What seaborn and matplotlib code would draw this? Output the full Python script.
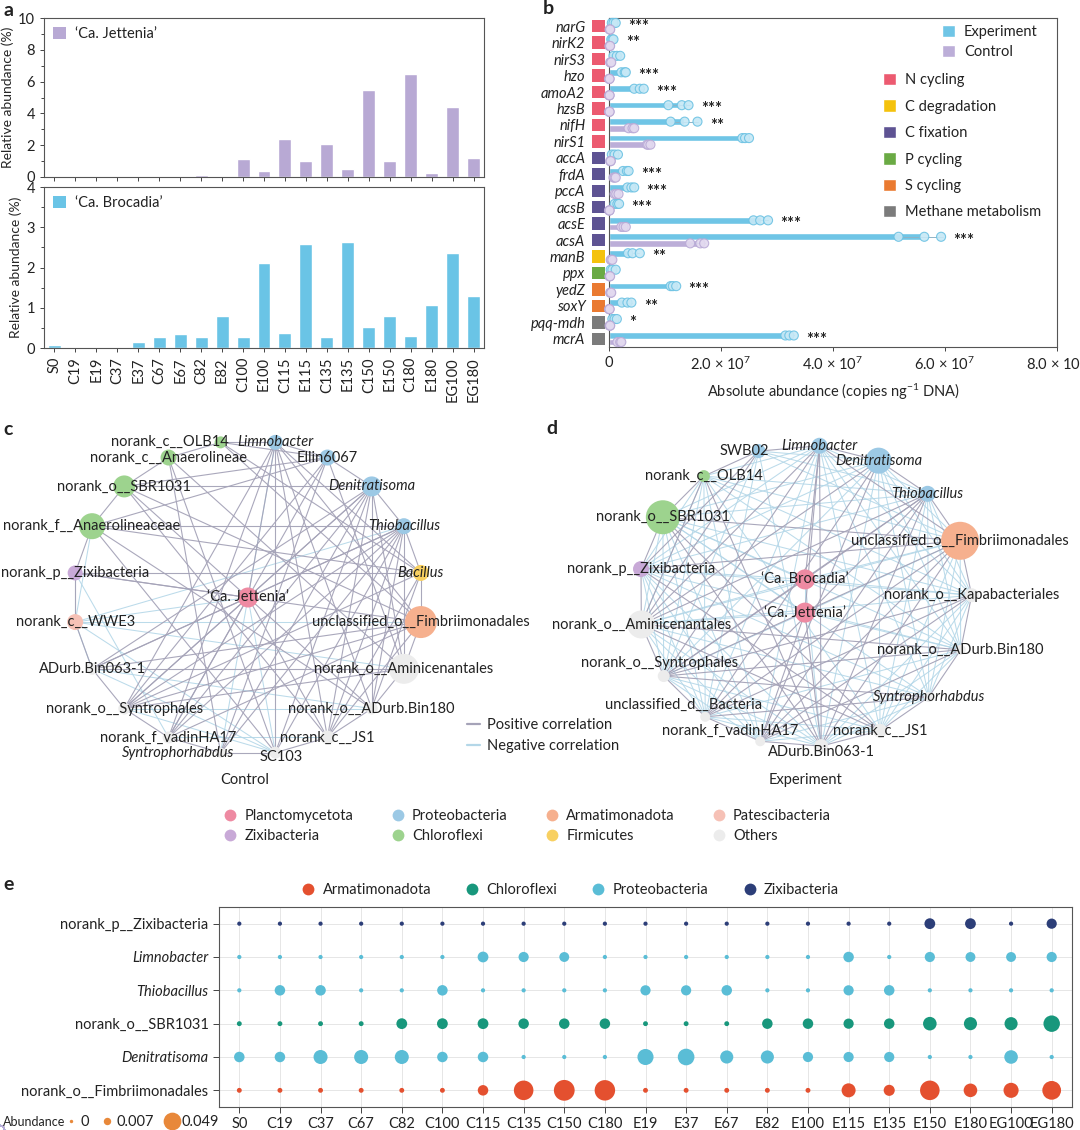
import numpy as np
import pandas as pd
import matplotlib
matplotlib.use("Agg")
import matplotlib.pyplot as plt
import matplotlib.transforms as mtransforms
from matplotlib.lines import Line2D
from matplotlib.patches import Patch
from matplotlib.ticker import MultipleLocator
import seaborn as sns

# ---------------- panel a: relative abundance of anammox genera ----------------
samples_a = ["S0", "C19", "E19", "C37", "E37", "C67", "E67", "C82", "E82", "C100", "E100",
             "C115", "E115", "C135", "E135", "C150", "E150", "C180", "E180", "EG100", "EG180"]
jettenia_pct = [0, 0, 0, 0, 0, 0, 0, 0.15, 0, 1.15, 0.4, 2.4, 1.0, 2.1, 0.5, 5.45, 1.0, 6.5, 0.25, 4.4, 1.2]
brocadia_pct = [0.07, 0.01, 0.01, 0, 0.15, 0.27, 0.36, 0.28, 0.79, 0.28, 2.12, 0.37, 2.58, 0.28, 2.63,
                0.52, 0.8, 0.3, 1.07, 2.35, 1.3]

# ---------------- panel b: functional genes (x 1e7 copies per ng DNA) ----------------
genes = ["narG", "nirK2", "nirS3", "hzo", "amoA2", "hzsB", "nifH", "nirS1", "accA", "frdA", "pccA",
         "acsB", "acsE", "acsA", "manB", "ppx", "yedZ", "soxY", "pqq-mdh", "mcrA"]
gene_group = ["N cycling"] * 8 + ["C fixation"] * 6 + ["C degradation", "P cycling", "S cycling",
                                                        "S cycling", "Methane metabolism", "Methane metabolism"]
exp_reps = [[0.05, 0.08, 0.12], [0.04, 0.06, 0.08], [0.08, 0.14, 0.2], [0.22, 0.28, 0.3],
            [0.45, 0.55, 0.62], [1.06, 1.3, 1.42], [1.1, 1.35, 1.58], [2.38, 2.43, 2.5],
            [0.05, 0.1, 0.16], [0.25, 0.32, 0.35], [0.33, 0.4, 0.45], [0.1, 0.15, 0.18],
            [2.58, 2.7, 2.84], [5.17, 5.63, 5.93], [0.34, 0.42, 0.55], [0.03, 0.06, 0.12],
            [1.1, 1.14, 1.2], [0.23, 0.33, 0.4], [0.06, 0.1, 0.14], [3.15, 3.22, 3.3]]
ctl_reps = [[0.01, 0.02, 0.02], [0.01, 0.01, 0.02], [0.02, 0.03, 0.04], [0.0, 0.01, 0.01],
            [0.0, 0.01, 0.01], [0.0, 0.01, 0.01], [0.35, 0.42, 0.45], [0.68, 0.7, 0.74],
            [0.02, 0.03, 0.03], [0.08, 0.1, 0.12], [0.1, 0.13, 0.17], [0.0, 0.01, 0.01],
            [0.22, 0.26, 0.3], [1.45, 1.63, 1.7], [0.03, 0.04, 0.06], [0.01, 0.01, 0.02],
            [0.02, 0.03, 0.04], [0.0, 0.01, 0.01], [0.01, 0.02, 0.02], [0.15, 0.2, 0.22]]
signif = ["***", "**", "", "***", "***", "***", "**", "", "", "***", "***", "***", "***", "***",
          "**", "", "***", "**", "*", "***"]
group_names = ["N cycling", "C degradation", "C fixation", "P cycling", "S cycling", "Methane metabolism"]
group_colors = ["#ec5a70", "#f4c20d", "#5e5393", "#6aaa44", "#ea7a31", "#7b7b7b"]

# ---------------- panels c, d: co-occurrence networks ----------------
phyla = ["Planctomycetota", "Zixibacteria", "Proteobacteria", "Chloroflexi",
         "Armatimonadota", "Firmicutes", "Patescibacteria", "Others"]
phylum_colors = ["#ee8aa2", "#c8a9d7", "#9cc9e5", "#9dd38e", "#f6b08e", "#f8d061", "#f6c1b6", "#ececec"]

ctrl_nodes = ["Limnobacter", "Ellin6067", "Denitratisoma", "Thiobacillus", "Bacillus",
              "unclassified_o__Fimbriimonadales", "norank_o__Aminicenantales", "norank_o__ADurb.Bin180",
              "norank_c__JS1", "SC103", "Syntrophorhabdus", "norank_f_vadinHA17", "norank_o__Syntrophales",
              "ADurb.Bin063-1", "norank_c__WWE3", "norank_p__Zixibacteria", "norank_f__Anaerolineaceae",
              "norank_o__SBR1031", "norank_c__Anaerolineae", "norank_c__OLB14", "‘Ca. Jettenia’"]
ctrl_phyla = ["Proteobacteria", "Proteobacteria", "Proteobacteria", "Proteobacteria", "Firmicutes",
              "Armatimonadota", "Others", "Others", "Others", "Others", "Others", "Others", "Others",
              "Others", "Patescibacteria", "Zixibacteria", "Chloroflexi", "Chloroflexi", "Chloroflexi",
              "Chloroflexi", "Planctomycetota"]
ctrl_weight = [15, 16, 20, 16, 16, 32, 30, 12, 14, 12, 10, 12, 12, 12, 16, 15, 26, 22, 16, 12, 20]
ctrl_pos = [(0, 1), (1, 2), (2, 3), (3, 4), (4, 5), (5, 6), (6, 7), (7, 8), (8, 9), (9, 10), (10, 11),
            (11, 12), (12, 13), (13, 14), (14, 15), (15, 16), (16, 17), (17, 18), (18, 19), (19, 0),
            (0, 9), (0, 8), (0, 11), (0, 12), (0, 4), (0, 5), (0, 7), (19, 4), (19, 5), (19, 1),
            (2, 9), (2, 8), (2, 10), (2, 11), (2, 12), (2, 13), (2, 17), (2, 7), (2, 6),
            (3, 8), (3, 9), (3, 11), (3, 12), (3, 13), (3, 16), (3, 7), (3, 10), (3, 6),
            (4, 15), (4, 8), (4, 7), (4, 12), (4, 16), (5, 13), (5, 12), (5, 17), (5, 8), (5, 11), (5, 15),
            (6, 13), (6, 12), (6, 1), (6, 18), (20, 15), (20, 13), (20, 12), (20, 11), (20, 2), (20, 3),
            (20, 0), (20, 8), (1, 11), (1, 12), (1, 17), (1, 16), (1, 10), (17, 7), (17, 8), (18, 10),
            (18, 9), (16, 9), (16, 7)]
ctrl_neg = [(20, 9), (14, 13), (14, 6), (14, 5), (15, 14), (12, 7), (11, 8), (9, 12), (14, 3), (15, 11),
            (13, 7), (16, 14), (0, 10), (14, 9), (13, 9), (20, 14)]

exp_nodes = ["Limnobacter", "Denitratisoma", "Thiobacillus", "unclassified_o__Fimbriimonadales",
             "norank_o__Kapabacteriales", "norank_o__ADurb.Bin180", "Syntrophorhabdus", "norank_c__JS1",
             "ADurb.Bin063-1", "norank_f_vadinHA17", "unclassified_d__Bacteria", "norank_o__Syntrophales",
             "norank_o__Aminicenantales", "norank_p__Zixibacteria", "norank_o__SBR1031", "norank_c__OLB14",
             "SWB02", "‘Ca. Brocadia’", "‘Ca. Jettenia’"]
exp_phyla = ["Proteobacteria", "Proteobacteria", "Proteobacteria", "Armatimonadota", "Others", "Others",
             "Others", "Others", "Others", "Others", "Others", "Others", "Others", "Zixibacteria",
             "Chloroflexi", "Chloroflexi", "Proteobacteria", "Planctomycetota", "Planctomycetota"]
exp_weight = [16, 26, 16, 38, 14, 10, 10, 14, 14, 10, 10, 12, 28, 16, 34, 12, 14, 20, 20]
exp_pos = [(0, 1), (1, 2), (2, 3), (3, 4), (4, 5), (5, 6), (6, 7), (7, 8), (8, 9), (9, 10), (10, 11),
           (11, 12), (12, 13), (13, 14), (14, 15), (15, 16), (16, 0), (14, 3), (13, 3), (12, 5), (0, 8),
           (0, 3), (0, 12), (0, 11), (1, 9), (1, 10), (2, 9), (2, 10), (2, 11), (2, 12), (3, 9), (3, 10),
           (3, 11), (16, 13), (16, 12), (15, 12), (17, 11), (17, 2), (17, 0), (18, 8), (18, 9), (18, 0),
           (14, 8), (14, 7), (13, 7), (12, 7), (11, 5), (11, 4), (5, 9), (15, 8), (2, 8), (3, 8), (4, 9),
           (4, 10), (6, 10), (6, 11), (1, 12)]
exp_neg = [(0, 2), (0, 4), (0, 5), (0, 6), (0, 7), (0, 9), (0, 10), (0, 13), (0, 14), (0, 15),
           (1, 3), (1, 4), (1, 5), (1, 6), (1, 7), (1, 8), (1, 11), (1, 13), (1, 14), (1, 16),
           (2, 4), (2, 5), (2, 6), (2, 7), (2, 13), (2, 14), (2, 15), (2, 16),
           (3, 5), (3, 6), (3, 7), (3, 12), (3, 15), (3, 16), (4, 6), (4, 7), (4, 8), (4, 12), (4, 13),
           (4, 14), (4, 15), (5, 7), (5, 8), (5, 10), (5, 13), (5, 14), (5, 15), (6, 8), (6, 9), (6, 12),
           (6, 13), (6, 14), (7, 9), (7, 10), (7, 11), (7, 15), (8, 10), (8, 11), (8, 12), (8, 13), (8, 16),
           (9, 11), (9, 12), (9, 13), (9, 14), (9, 15), (10, 12), (10, 13), (10, 14), (10, 15), (10, 16),
           (11, 13), (11, 14), (11, 15), (11, 16), (12, 14), (12, 15), (13, 15),
           (17, 3), (17, 4), (17, 12), (17, 13), (17, 14), (17, 8), (17, 18),
           (18, 3), (18, 12), (18, 14), (18, 5), (18, 11)]
italic_taxa = ["Limnobacter", "Denitratisoma", "Thiobacillus", "Bacillus", "Syntrophorhabdus"]

# ---------------- panel e: key taxa abundance ----------------
samples_e = ["S0", "C19", "C37", "C67", "C82", "C100", "C115", "C135", "C150", "C180", "E19", "E37",
             "E67", "E82", "E100", "E115", "E135", "E150", "E180", "EG100", "EG180"]
taxa_e = ["norank_p__Zixibacteria", "Limnobacter", "Thiobacillus", "norank_o__SBR1031",
          "Denitratisoma", "norank_o__Fimbriimonadales"]
taxa_e_phylum = ["Zixibacteria", "Proteobacteria", "Proteobacteria", "Chloroflexi", "Proteobacteria",
                 "Armatimonadota"]
abund_zixi = [0.001, 0.001, 0.001, 0.001, 0.001, 0.001, 0.001, 0.001, 0.001, 0.001, 0.001, 0.001,
              0.001, 0.001, 0.001, 0.001, 0.001, 0.017, 0.017, 0.001, 0.015]
abund_limno = [0.001, 0.001, 0.001, 0.001, 0.001, 0.001, 0.017, 0.015, 0.014, 0.001, 0.001, 0.001,
               0.001, 0.001, 0.001, 0.016, 0.001, 0.015, 0.014, 0.014, 0.015]
abund_thio = [0.001, 0.016, 0.016, 0.001, 0.001, 0.016, 0.001, 0.001, 0.001, 0.001, 0.015, 0.015,
              0.016, 0.001, 0.001, 0.015, 0.016, 0.001, 0.001, 0.001, 0.001]
abund_sbr = [0.002, 0.002, 0.002, 0.002, 0.017, 0.017, 0.017, 0.016, 0.016, 0.016, 0.002, 0.002,
             0.002, 0.016, 0.016, 0.015, 0.016, 0.028, 0.026, 0.026, 0.042]
abund_deni = [0.016, 0.016, 0.03, 0.03, 0.03, 0.016, 0.016, 0.001, 0.001, 0.001, 0.04, 0.043,
              0.026, 0.026, 0.015, 0.015, 0.015, 0.001, 0.001, 0.028, 0.001]
abund_fimb = [0.002, 0.002, 0.002, 0.002, 0.002, 0.002, 0.016, 0.06, 0.068, 0.066, 0.002, 0.002,
              0.002, 0.002, 0.002, 0.03, 0.018, 0.06, 0.028, 0.035, 0.055]
abund_rows = [abund_zixi, abund_limno, abund_thio, abund_sbr, abund_deni, abund_fimb]
e_phyla = ["Armatimonadota", "Chloroflexi", "Proteobacteria", "Zixibacteria"]
e_colors = ["#e4502f", "#18977c", "#5abdd6", "#2c3e78"]
abund_legend = [0, 0.007, 0.049]

# ---------------- style ----------------
sns.set_style("ticks")
plt.rcParams["font.family"] = ["Lato", "DejaVu Sans"]
plt.rcParams["mathtext.fontset"] = "custom"
plt.rcParams["mathtext.rm"] = "Lato"
plt.rcParams["mathtext.it"] = "Lato:italic"
plt.rcParams["font.size"] = 10.5
plt.rcParams["text.color"] = "#222222"
plt.rcParams["axes.edgecolor"] = "#555555"
plt.rcParams["axes.linewidth"] = 0.8
plt.rcParams["xtick.color"] = "#444444"
plt.rcParams["ytick.color"] = "#444444"
plt.rcParams["xtick.labelcolor"] = "#222222"
plt.rcParams["ytick.labelcolor"] = "#222222"

W, H = 1080, 1130
fig = plt.figure(figsize=(W / 100, H / 100), dpi=100)


def px_axes(l, t, r, b):
    return fig.add_axes([l / W, 1 - b / H, (r - l) / W, (b - t) / H])


def fig_xy(x, y):
    return x / W, 1 - y / H


FS = 10.5
purple = "#b8a9d4"
blue = "#6ac4e6"

# ---- a ----
ax_a1 = px_axes(44, 18, 484, 177)
ax_a2 = px_axes(44, 187, 484, 348)
sns.barplot(x=samples_a, y=jettenia_pct, color=purple, saturation=1, width=0.62, ax=ax_a1)
sns.barplot(x=samples_a, y=brocadia_pct, color=blue, saturation=1, width=0.62, ax=ax_a2)
ax_a1.set_ylim(0, 10)
ax_a1.yaxis.set_major_locator(MultipleLocator(2))
ax_a1.yaxis.set_minor_locator(MultipleLocator(1))
ax_a2.set_ylim(0, 4)
ax_a2.yaxis.set_major_locator(MultipleLocator(1))
ax_a2.yaxis.set_minor_locator(MultipleLocator(0.5))
ax_a1.set_xticklabels([])
ax_a2.tick_params(axis="x", rotation=90)
for ax, lab, col in [(ax_a1, "‘Ca. Jettenia’", purple), (ax_a2, "‘Ca. Brocadia’", blue)]:
    ax.set_xlim(-0.5, len(samples_a) - 0.5)
    ax.set_ylabel("Relative abundance (%)", fontsize=10, labelpad=3)
    ax.tick_params(which="both", direction="out", length=3, width=0.7, labelsize=FS)
    ax.tick_params(which="minor", length=2)
    ax.legend(handles=[Patch(fc=col, ec="none", label=lab)], loc="upper left", frameon=False,
              fontsize=FS, handlelength=0.9, handleheight=0.9, handletextpad=0.6,
              borderaxespad=0.3, borderpad=0.3)

# ---- b ----
ax_b = px_axes(609, 18, 1057, 347)
rows = []
for g, er, cr in zip(genes, exp_reps, ctl_reps):
    rows += [{"gene": g, "group": "Experiment", "value": v * 1e7} for v in er]
    rows += [{"gene": g, "group": "Control", "value": v * 1e7} for v in cr]
df_b = pd.DataFrame(rows)
hue_order = ["Experiment", "Control"]
sns.barplot(data=df_b, y="gene", x="value", hue="group", hue_order=hue_order, order=genes,
            palette={"Experiment": "#6fc5e6", "Control": "#bcaed8"}, orient="h", errorbar="sd",
            err_kws={"linewidth": 0.7, "color": "#8fb3c6"}, width=0.8, saturation=1, legend=False, ax=ax_b)
pt_style = {"Experiment": ("#c6e8f6", "#6cc2e3"), "Control": ("#e2d9ef", "#b9aad6")}
for grp in hue_order:
    fc, ec = pt_style[grp]
    sns.stripplot(data=df_b[df_b["group"] == grp], y="gene", x="value", hue="group", hue_order=hue_order,
                  order=genes, orient="h", dodge=True, jitter=False,
                  palette={"Experiment": fc, "Control": fc},
                  edgecolor=ec, linewidth=0.8, size=6.5, alpha=0.9, legend=False, ax=ax_b, clip_on=False,
                  zorder=4)
for i, (er, st) in enumerate(zip(exp_reps, signif)):
    if st:
        ax_b.text(max(er) * 1e7 + 0.22e7, i + 0.05, st, fontsize=12, fontweight="bold",
                  va="center", ha="left", color="#222222")
ax_b.set_xlim(0, 8e7)
ax_b.set_ylim(len(genes) - 0.5, -0.5)
ax_b.set_xticks([0, 2e7, 4e7, 6e7, 8e7])
ax_b.set_xticklabels(["0", "2.0 × 10$^{7}$", "4.0 × 10$^{7}$", "6.0 × 10$^{7}$", "8.0 × 10$^{7}$"])
ax_b.set_yticks(range(len(genes)))
ax_b.set_yticklabels(genes, style="italic")
ax_b.tick_params(axis="y", length=0, pad=17, labelsize=FS)
ax_b.tick_params(axis="x", direction="out", length=3, width=0.7, labelsize=FS)
ax_b.set_xlabel("Absolute abundance (copies ng$^{-1}$ DNA)", fontsize=FS, labelpad=6)
ax_b.set_ylabel("")
trans = mtransforms.blended_transform_factory(ax_b.transAxes, ax_b.transData)
sq_colors = [group_colors[group_names.index(g)] for g in gene_group]
ax_b.scatter([-0.023] * len(genes), range(len(genes)), marker="s", s=80, c=sq_colors,
             transform=trans, clip_on=False, linewidths=0)
ax_b.set_ylim(len(genes) - 0.5, -0.5)
leg1 = ax_b.legend(handles=[Patch(fc="#6fc5e6", label="Experiment"), Patch(fc="#bcaed8", label="Control")],
                   loc="upper left", bbox_to_anchor=fig_xy(942, 25), bbox_transform=fig.transFigure,
                   frameon=False, fontsize=FS, handlelength=0.9, handleheight=0.9, handletextpad=0.6,
                   labelspacing=0.4, borderpad=0, borderaxespad=0)
ax_b.add_artist(leg1)
ax_b.legend(handles=[Patch(fc=c, label=n) for n, c in zip(group_names, group_colors)],
            loc="upper left", bbox_to_anchor=fig_xy(883, 73), bbox_transform=fig.transFigure,
            frameon=False, fontsize=FS, handlelength=0.9, handleheight=0.9, handletextpad=0.6,
            labelspacing=0.85, borderpad=0, borderaxespad=0)

# ---- c, d ----
pos_col = "#a5a3b8"
neg_col = "#b4d7e8"
pal_net = dict(zip(phyla, phylum_colors))

# label alignment tweaks (ha, dx px, dy px) so that names do not collide
ctrl_label_tweak = {"norank_c__OLB14": ("right", 8, 0), "Syntrophorhabdus": ("right", 14, 0),
                    "SC103": ("left", -16, 4)}
exp_label_tweak = {"norank_f_vadinHA17": ("center", -30, -10), "ADurb.Bin063-1": ("center", 0, 6),
                   "unclassified_d__Bacteria": ("center", -22, -12),
                   "norank_o__Syntrophales": ("center", -4, -13), "SWB02": ("right", 10, 0)}


def draw_network(ax, names, node_phyla, weight, n_ring, start_deg, pos_edges, neg_edges, tweak):
    ang = np.deg2rad(start_deg + 360.0 / n_ring * np.arange(n_ring))
    xs = list(np.sin(ang))
    ys = list(np.cos(ang))
    n_in = len(names) - n_ring
    if n_in == 1:
        xs += [0.0]
        ys += [0.0]
    else:
        xs += [0.0] * n_in
        ys += list(np.linspace(0.11, -0.11, n_in))
    for i, j in neg_edges:
        ax.plot([xs[i], xs[j]], [ys[i], ys[j]], color=neg_col, lw=0.75, alpha=0.9, zorder=1)
    for i, j in pos_edges:
        ax.plot([xs[i], xs[j]], [ys[i], ys[j]], color=pos_col, lw=0.8, alpha=0.95, zorder=2)
    nodes = pd.DataFrame({"x": xs, "y": ys, "phylum": node_phyla})
    sizes = [(0.72 * w) ** 2 for w in weight]
    sns.scatterplot(data=nodes, x="x", y="y", hue="phylum", palette=pal_net, s=sizes,
                    linewidth=0, legend=False, ax=ax, zorder=3)
    for x, y, name in zip(xs, ys, names):
        ha, dx, dy = tweak.get(name, ("center", 0, 0))
        tr = mtransforms.offset_copy(ax.transData, fig=fig, x=dx * 0.72, y=-dy * 0.72, units="points")
        ax.text(x, y, name, ha=ha, va="center", fontsize=FS, transform=tr,
                style="italic" if name in italic_taxa else "normal", zorder=4)
    ax.set_xlim(-1.2, 1.2)
    ax.set_ylim(-1.2, 1.2)
    ax.set_axis_off()


ax_c = px_axes(38, 409, 458, 786)
draw_network(ax_c, ctrl_nodes, ctrl_phyla, ctrl_weight, 20, 9, ctrl_pos, ctrl_neg, ctrl_label_tweak)
ax_d = px_axes(605, 415, 1005, 777)
draw_network(ax_d, exp_nodes, exp_phyla, exp_weight, 17, 5, exp_pos, exp_neg, exp_label_tweak)
fig.text(*fig_xy(245, 780), "Control", ha="center", va="center", fontsize=FS)
fig.text(*fig_xy(806, 780), "Experiment", ha="center", va="center", fontsize=FS)

fig.legend(handles=[Line2D([], [], color=pos_col, lw=1.6, label="Positive correlation"),
                    Line2D([], [], color=neg_col, lw=1.6, label="Negative correlation")],
           loc="upper left", bbox_to_anchor=fig_xy(467, 718), frameon=False, fontsize=FS,
           handlelength=0.9, handletextpad=0.5, labelspacing=0.5, borderpad=0, borderaxespad=0)

leg_order = ["Planctomycetota", "Zixibacteria", "Proteobacteria", "Chloroflexi",
             "Armatimonadota", "Firmicutes", "Patescibacteria", "Others"]
fig.legend(handles=[Line2D([], [], ls="", marker="o", ms=8.5, mew=0, color=pal_net[p], label=p)
                    for p in leg_order],
           loc="center left", bbox_to_anchor=fig_xy(223, 826), ncol=4, frameon=False, fontsize=FS,
           handlelength=1.0, handletextpad=0.5, columnspacing=2.5, labelspacing=0.45,
           borderpad=0, borderaxespad=0)

# ---- e ----
ax_e = px_axes(219, 907, 1072, 1107)
rows = []
for taxon, ph, vals in reversed(list(zip(taxa_e, taxa_e_phylum, abund_rows))):
    for s, v in zip(samples_e, vals):
        rows.append({"sample": s, "taxon": taxon, "phylum": ph, "abundance": v})
df_e = pd.DataFrame(rows)
size_rng = (6, 230)
size_norm = (0, 0.07)
sns.scatterplot(data=df_e, x="sample", y="taxon", hue="phylum", palette=dict(zip(e_phyla, e_colors)),
                size="abundance", sizes=size_rng, size_norm=size_norm, linewidth=0, legend=False,
                ax=ax_e, zorder=3)
ax_e.set_xlim(-0.5, len(samples_e) - 0.5)
ax_e.set_ylim(-0.5, len(taxa_e) - 0.5)
ax_e.grid(True, color="#e6e6e6", lw=0.7)
ax_e.set_axisbelow(True)
ax_e.set_xlabel("")
ax_e.set_ylabel("")
ax_e.tick_params(direction="out", length=4, width=0.7, labelsize=FS)
for t in ax_e.get_yticklabels():
    if t.get_text() in italic_taxa:
        t.set_style("italic")
fig.legend(handles=[Line2D([], [], ls="", marker="o", ms=8.5, mew=0, color=c, label=p)
                    for p, c in zip(e_phyla, e_colors)],
           loc="center", bbox_to_anchor=fig_xy(570, 890), ncol=4, frameon=False, fontsize=FS,
           handlelength=1.0, handletextpad=0.5, columnspacing=2.3, borderpad=0, borderaxespad=0)


def abund_ms(v):
    s = size_rng[0] + (size_rng[1] - size_rng[0]) * (v - size_norm[0]) / (size_norm[1] - size_norm[0])
    return np.sqrt(s)


fig.text(*fig_xy(3, 1122), "Abundance", ha="left", va="center", fontsize=9)
fig.legend(handles=[Line2D([], [], ls="", marker="o", ms=abund_ms(v), mew=0, color="#e8883a",
                           label=f"{v:g}") for v in abund_legend],
           loc="center left", bbox_to_anchor=fig_xy(64, 1122), ncol=3, frameon=False, fontsize=FS,
           handlelength=0.9, handletextpad=0.2, columnspacing=0.8, borderpad=0, borderaxespad=0)

# ---- panel letters ----
for letter, x, y in [("a", 3, 10), ("b", 543, 9), ("c", 3, 430), ("d", 546, 428), ("e", 3, 884)]:
    fig.text(*fig_xy(x, y), letter, fontsize=14, fontweight="bold", ha="left", va="center")

fig.savefig("out.png", dpi=100)
